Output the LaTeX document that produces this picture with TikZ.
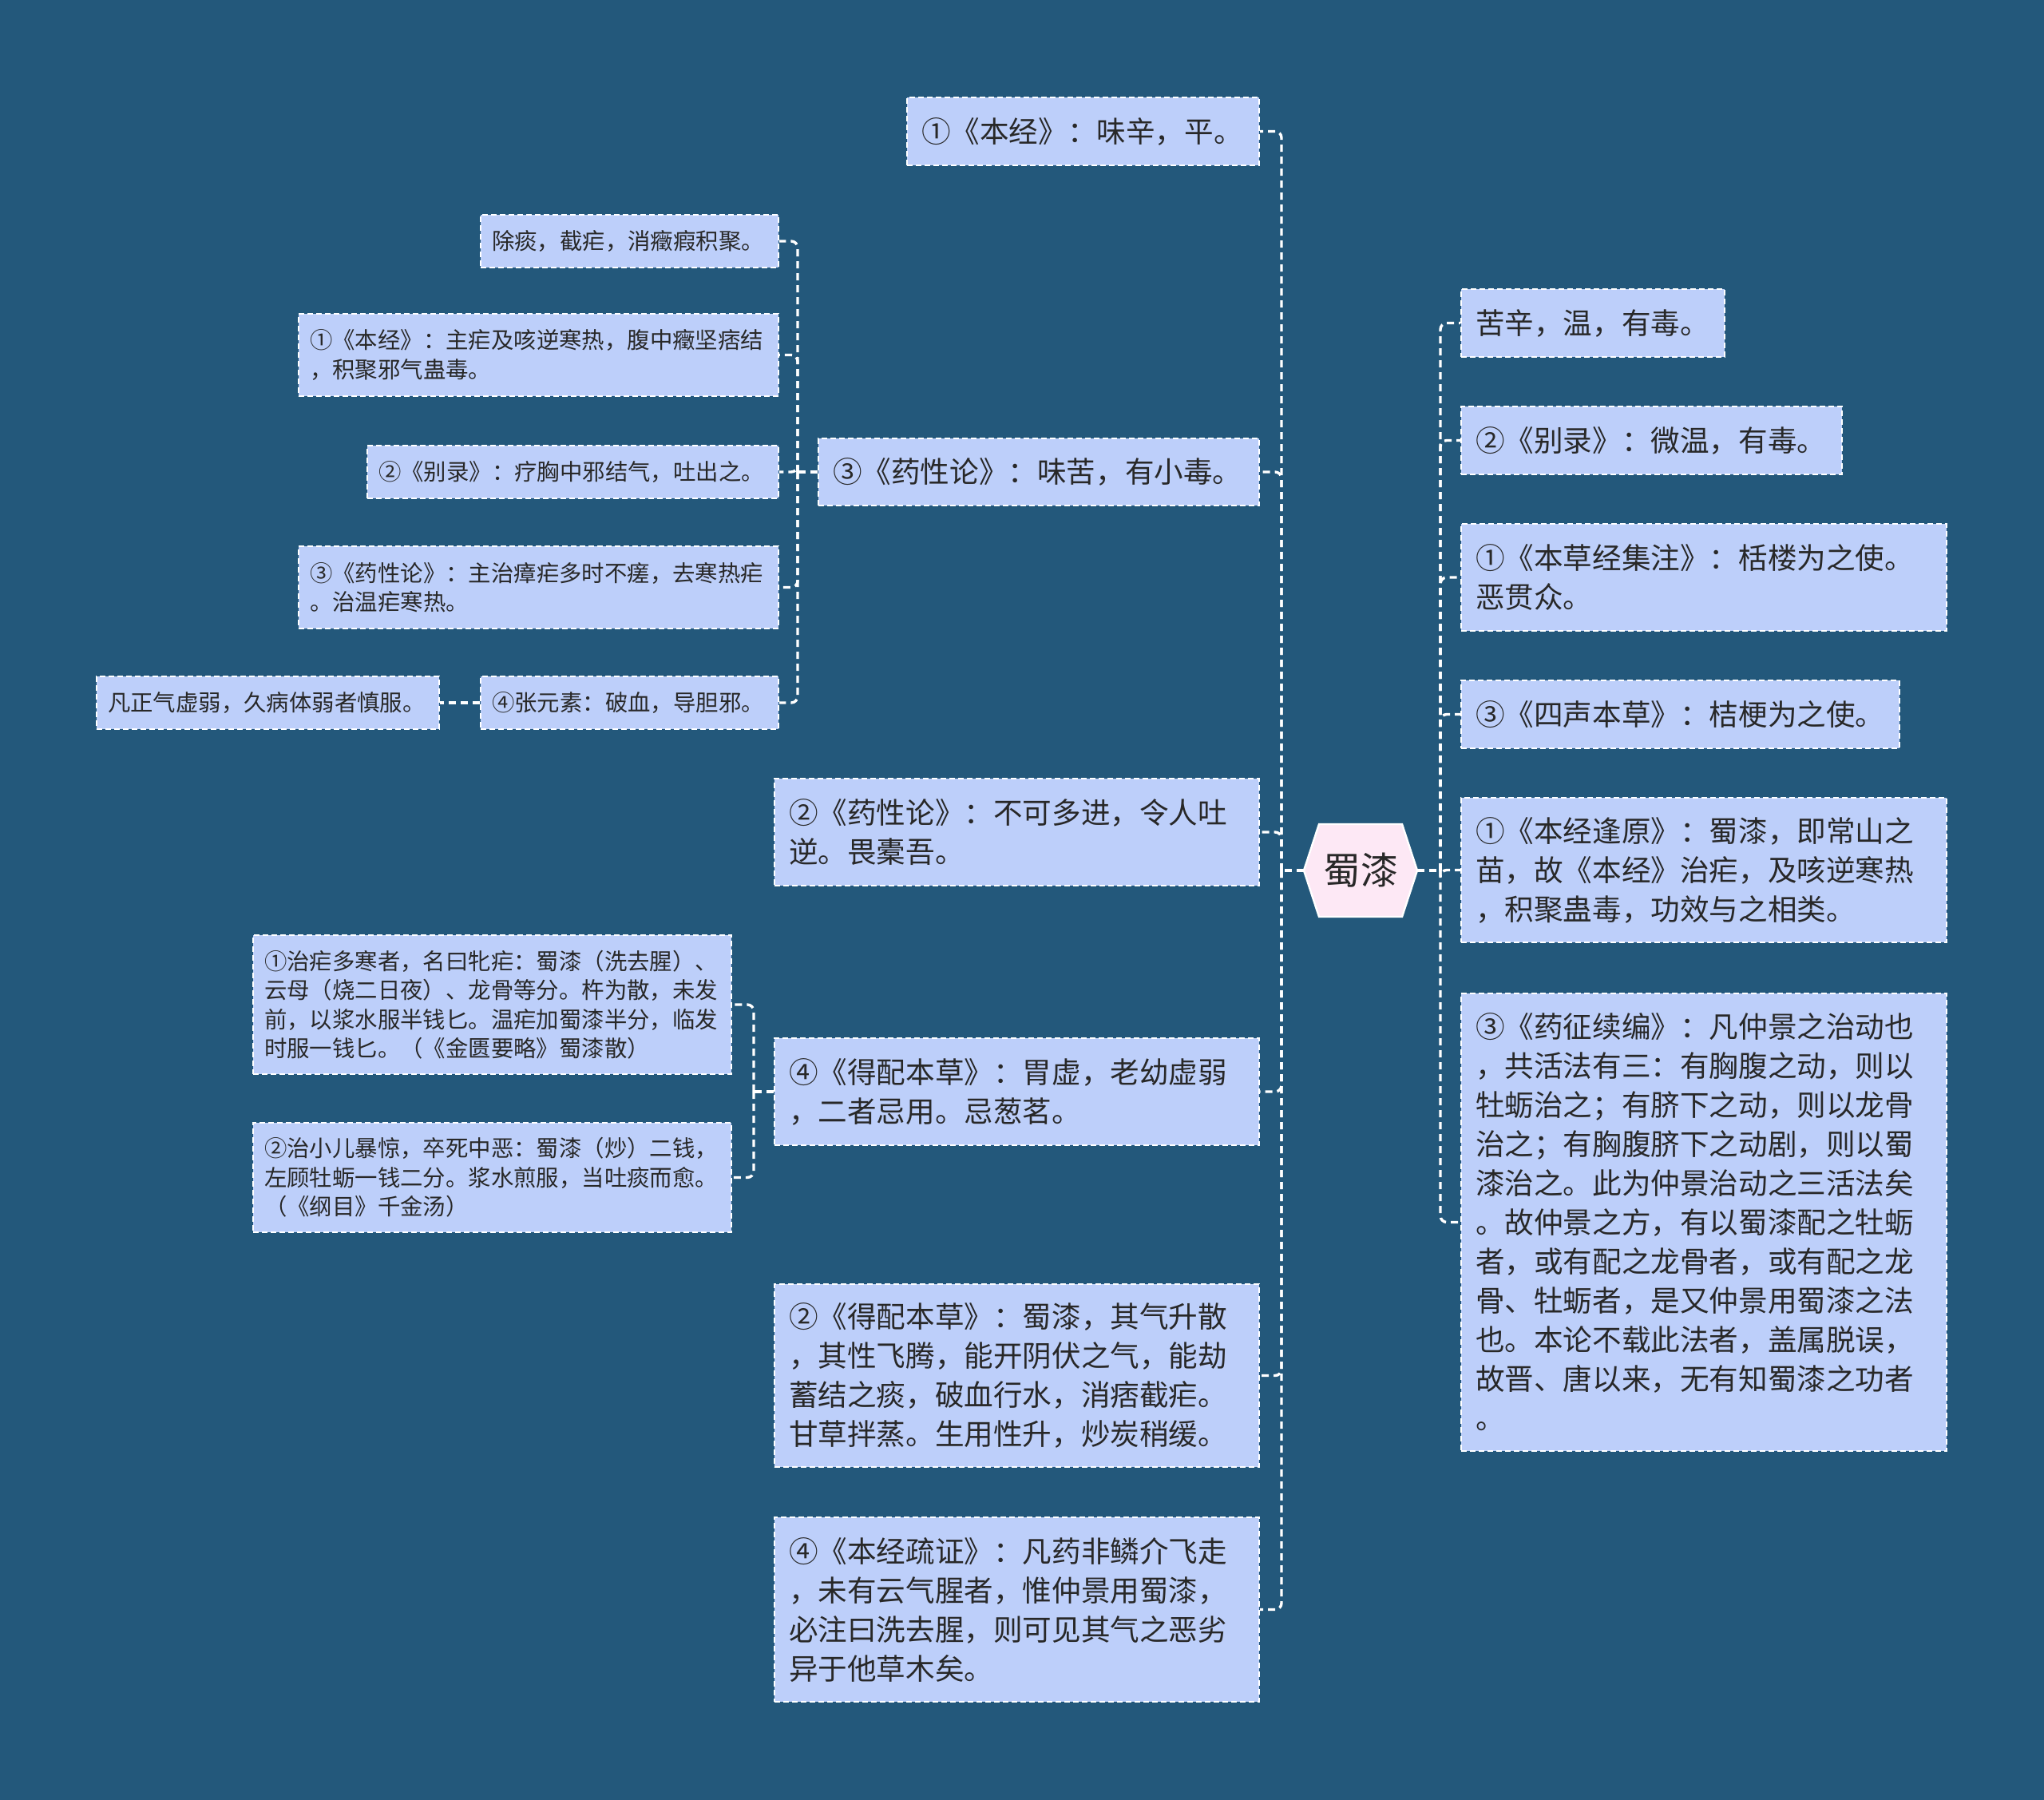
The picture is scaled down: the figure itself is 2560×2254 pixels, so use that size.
\documentclass[tikz,border=0pt]{standalone}
\usepackage{fontspec}
\setmainfont{Noto Sans CJK SC}
\definecolor{bg}{RGB}{35,88,123}
\definecolor{boxfill}{RGB}{189,207,250}
\definecolor{hexfill}{RGB}{253,232,245}
\definecolor{txt}{RGB}{40,40,40}
\tikzset{
  bx/.style={draw=white, line width=1.2pt, dash pattern=on 3.5pt off 2pt, fill=boxfill, text=txt, align=left, inner xsep=9pt, inner ysep=0pt, anchor=center},
  big/.style={bx, font=\fontsize{18.3pt}{24.5pt}\selectfont},
  small/.style={bx, inner xsep=7pt, font=\fontsize{14.2pt}{18.25pt}\selectfont},
  conn/.style={draw=white, line width=1.7pt, dash pattern=on 4.5pt off 3pt, rounded corners=4pt},
}
\begin{document}
\begin{tikzpicture}[x=0.5pt,y=-0.5pt]
\useasboundingbox (0,0) rectangle (2560,2254);
\fill[bg] (0,0) rectangle (2560,2254);
% centre
\filldraw[fill=hexfill, draw=white, line width=1.2pt] (1633,1090) -- (1652,1032) -- (1756,1032) -- (1775,1090) -- (1756,1148) -- (1652,1148) -- cycle;
\node[font=\fontsize{23.5pt}{28pt}\selectfont, text=txt, minimum width=71pt, minimum height=58pt, inner sep=0pt] (c) at (1704,1090) {蜀漆};
% left main
\node[big, text width=202.5pt, minimum height=42.5pt] (A1) at (1356.5,164.5) {①《本经》：味辛，平。};
\node[big, text width=258pt, minimum height=42pt] (A2) at (1301,591) {③《药性论》：味苦，有小毒。};
\node[big, text width=285.5pt, minimum height=67pt] (A3) at (1273.5,1042) {②《药性论》：不可多进，令人吐\\逆。畏橐吾。};
\node[big, text width=285.5pt, minimum height=67pt] (A4) at (1273.5,1367) {④《得配本草》：胃虚，老幼虚弱\\，二者忌用。忌葱茗。};
\node[big, text width=285.5pt, minimum height=114.5pt] (A5) at (1273.5,1722.5) {②《得配本草》：蜀漆，其气升散\\，其性飞腾，能开阴伏之气，能劫\\蓄结之痰，破血行水，消痞截疟。\\甘草拌蒸。生用性升，炒炭稍缓。};
\node[big, text width=285.5pt, minimum height=115.5pt] (A6) at (1273.5,2015.5) {④《本经疏证》：凡药非鳞介飞走\\，未有云气腥者，惟仲景用蜀漆，\\必注曰洗去腥，则可见其气之恶劣\\异于他草木矣。};
% A2 children
\node[small, text width=172.5pt, minimum height=33pt] (B1) at (788.5,302) {除痰，截疟，消癥瘕积聚。};
\node[small, text width=286.5pt, minimum height=51.5pt] (B2) at (674.5,444.5) {①《本经》：主疟及咳逆寒热，腹中癥坚痞结\\，积聚邪气蛊毒。};
\node[small, text width=243.5pt, minimum height=33pt] (B3) at (717.5,591) {②《别录》：疗胸中邪结气，吐出之。};
\node[small, text width=286.5pt, minimum height=51.5pt] (B4) at (674.5,735.5) {③《药性论》：主治瘴疟多时不瘥，去寒热疟\\。治温疟寒热。};
\node[small, text width=172.5pt, minimum height=33pt] (B5) at (788.5,880) {④张元素：破血，导胆邪。};
\node[small, text width=200.5pt, minimum height=33pt] (C1) at (335.5,880) {凡正气虚弱，久病体弱者慎服。};
% A4 children
\node[small, text width=285.5pt, minimum height=87pt] (D1) at (616.5,1258) {①治疟多寒者，名曰牝疟：蜀漆（洗去腥）、\\云母（烧二日夜）、龙骨等分。杵为散，未发\\前，以浆水服半钱匕。温疟加蜀漆半分，临发\\时服一钱匕。（《金匮要略》蜀漆散）};
\node[small, text width=285.5pt, minimum height=68.5pt] (D2) at (616.5,1474.5) {②治小儿暴惊，卒死中恶：蜀漆（炒）二钱，\\左顾牡蛎一钱二分。浆水煎服，当吐痰而愈。\\（《纲目》千金汤）};
% right
\node[big, text width=147pt, minimum height=42.5pt] (R1) at (1995,404.5) {苦辛，温，有毒。};
\node[big, text width=220.5pt, minimum height=42.5pt] (R2) at (2068.5,551.5) {②《别录》：微温，有毒。};
\node[big, text width=286pt, minimum height=67pt] (R3) at (2134,723) {①《本草经集注》：栝楼为之使。\\恶贯众。};
\node[big, text width=256.5pt, minimum height=42.5pt] (R4) at (2104.5,894.5) {③《四声本草》：桔梗为之使。};
\node[big, text width=286pt, minimum height=90.5pt] (R5) at (2134,1089.5) {①《本经逢原》：蜀漆，即常山之\\苗，故《本经》治疟，及咳逆寒热\\，积聚蛊毒，功效与之相类。};
\node[big, text width=286pt, minimum height=286.5pt] (R6) at (2134,1530.5) {③《药征续编》：凡仲景之治动也\\，共活法有三：有胸腹之动，则以\\牡蛎治之；有脐下之动，则以龙骨\\治之；有胸腹脐下之动剧，则以蜀\\漆治之。此为仲景治动之三活法矣\\。故仲景之方，有以蜀漆配之牡蛎\\者，或有配之龙骨者，或有配之龙\\骨、牡蛎者，是又仲景用蜀漆之法\\也。本论不载此法者，盖属脱误，\\故晋、唐以来，无有知蜀漆之功者\\。};
% trunk coordinates
\coordinate (L) at (1605,1090);
\coordinate (R) at (1804,1090);
\coordinate (tB) at (999,591);
\coordinate (tD) at (944,1367);
% connectors
\draw[conn] (c.west) -- (L);
\foreach \n in {A1,A2,A3,A4,A5,A6} \draw[conn] (L) |- (\n.east);
\draw[conn] (c.east) -- (R);
\foreach \n in {R1,R2,R3,R4,R5,R6} \draw[conn] (R) |- (\n.west);
\draw[conn] (A2.west) -- (tB);
\foreach \n in {B1,B2,B3,B4,B5} \draw[conn] (tB) |- (\n.east);
\draw[conn] (B5.west) -- (C1.east);
\draw[conn] (A4.west) -- (tD);
\foreach \n in {D1,D2} \draw[conn] (tD) |- (\n.east);
\end{tikzpicture}
\end{document}
